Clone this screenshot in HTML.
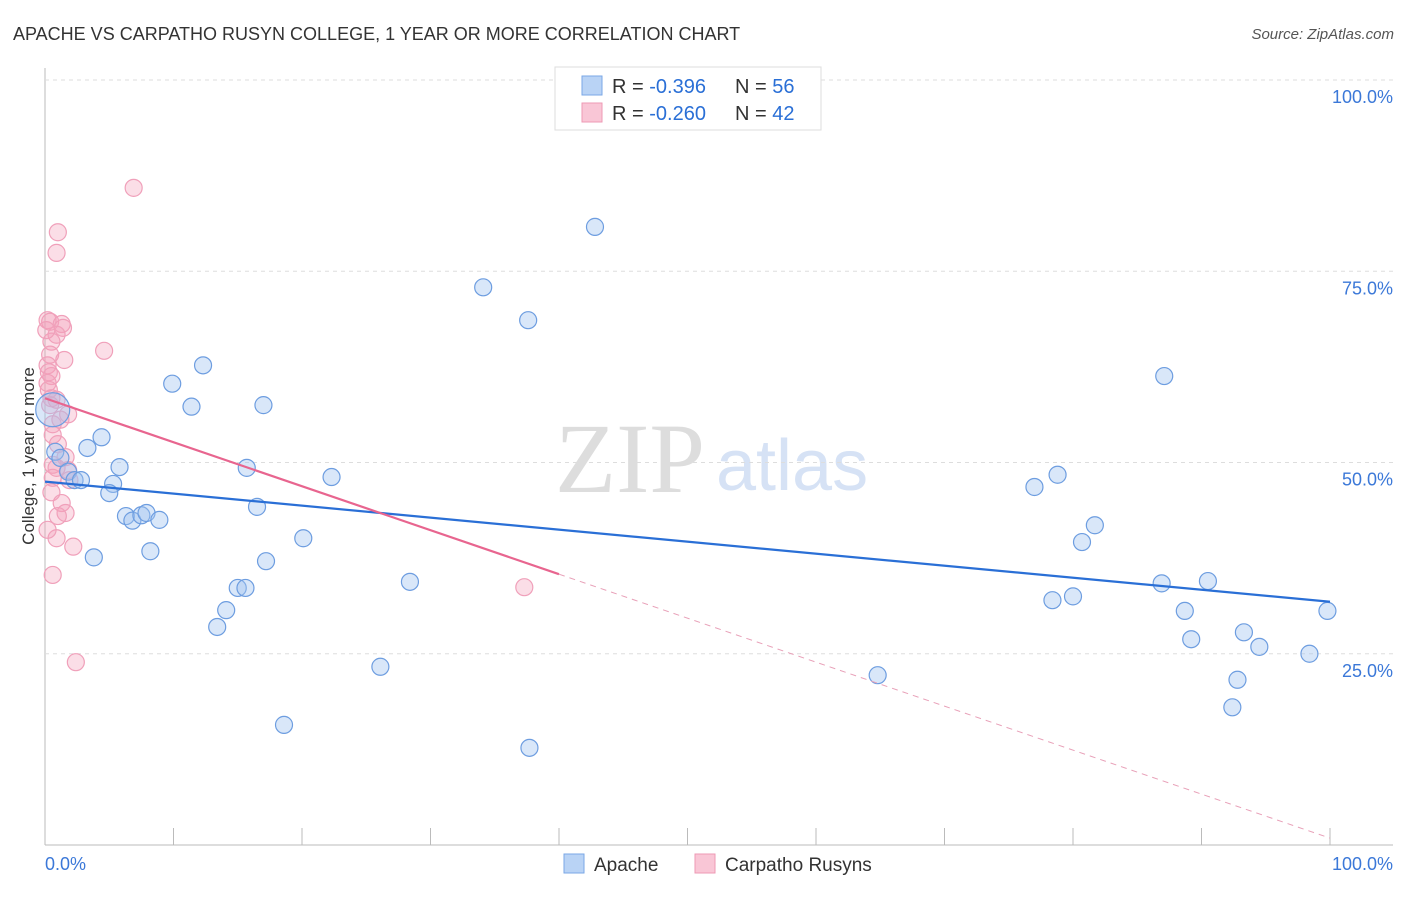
<!DOCTYPE html>
<html><head><meta charset="utf-8"><style>
body{margin:0;background:#fff;font-family:"Liberation Sans",sans-serif;}
</style></head><body>
<svg id="c" width="1406" height="892" xmlns="http://www.w3.org/2000/svg">
<text x="13" y="40" font-size="18" fill="#333">APACHE VS CARPATHO RUSYN COLLEGE, 1 YEAR OR MORE CORRELATION CHART</text>
<text x="1394" y="39" font-size="15" fill="#555" font-style="italic" text-anchor="end">Source: ZipAtlas.com</text>
<text x="34" y="456" font-size="17" fill="#333" text-anchor="middle" transform="rotate(-90 34 456)">College, 1 year or more</text>
<text x="555" y="492" font-size="100" fill="#ddd" font-family="Liberation Serif,serif">ZIP</text>
<text x="716" y="490" font-size="72" fill="#d6e2f5">atlas</text>
<g id="axes"></g><g id="pts"></g><g id="lines"></g>
<g>
<rect x="555" y="67" width="266" height="63" fill="#fff" stroke="#ddd"/>
<rect x="582" y="76" width="20" height="19" fill="#b9d3f5" stroke="#7aa7e6"/>
<rect x="582" y="103" width="20" height="19" fill="#f9c6d6" stroke="#ee99b4"/>
<text x="612" y="93" font-size="20" fill="#333">R = <tspan fill="#2a6fd6">-0.396</tspan><tspan x="735">N = </tspan><tspan fill="#2a6fd6">56</tspan></text>
<text x="612" y="120" font-size="20" fill="#333">R = <tspan fill="#2a6fd6">-0.260</tspan><tspan x="735">N = </tspan><tspan fill="#2a6fd6">42</tspan></text>
</g>
<g>
<rect x="564" y="854" width="20" height="19" fill="#b9d3f5" stroke="#7aa7e6"/>
<text x="594" y="871" font-size="19" fill="#333">Apache</text>
<rect x="695" y="854" width="20" height="19" fill="#f9c6d6" stroke="#ee99b4"/>
<text x="725" y="871" font-size="19" fill="#333">Carpatho Rusyns</text>
</g>
</svg>
<script>
const yTicks=[100,75,50,25];
const yTickLabels=["100.0%","75.0%","50.0%","25.0%"];
const xTicks=[0,10,20,30,40,50,60,70,80,90,100];
const apacheX=[42.8,34.1,37.6,87.1,12.3,9.9,11.4,17.0,0.6,4.4,3.3,0.8,1.2,5.8,15.7,1.8,2.3,2.8,5.3,5.0,22.3,78.8,77.0,16.5,6.3,6.8,7.5,7.9,8.9,20.1,81.7,80.7,8.2,3.8,17.2,28.4,15.0,15.6,86.9,90.5,78.4,80.0,14.1,88.7,99.8,13.4,89.2,93.3,94.5,98.4,26.1,64.8,92.8,92.4,18.6,37.7];
const apacheY=[80.8,72.9,68.6,61.3,62.7,60.3,57.3,57.5,56.9,53.3,51.9,51.4,50.6,49.4,49.3,48.8,47.7,47.7,47.2,46.0,48.1,48.4,46.8,44.2,43.0,42.4,43.1,43.4,42.5,40.1,41.8,39.6,38.4,37.6,37.1,34.4,33.6,33.6,34.2,34.5,32.0,32.5,30.7,30.6,30.6,28.5,26.9,27.8,25.9,25.0,23.3,22.2,21.6,18.0,15.7,12.7];
const rusynX=[6.9,1.0,0.9,0.2,0.4,1.3,1.4,0.9,0.5,4.6,0.4,1.5,0.2,0.3,0.5,0.2,0.3,0.5,0.9,1.8,0.6,0.6,1.0,1.6,0.6,0.9,1.8,0.6,0.5,1.3,1.6,1.0,0.9,2.2,0.6,37.3,2.4,0.1,0.4,1.2,1.9,0.2];
const rusynY=[85.9,80.1,77.4,68.6,68.4,68.1,67.6,66.7,65.8,64.6,64.1,63.4,62.7,61.8,61.3,60.4,59.5,58.4,58.2,56.3,55.0,53.6,52.4,50.7,49.7,49.3,49.0,48.0,46.1,44.7,43.4,43.0,40.1,39.0,35.3,33.7,23.9,67.3,57.5,55.6,47.7,41.2];
const apacheTrend=[47.5,31.8];
const rusynTrend=[58.4,0.9];
const rusynSolidEnd=40;
const NS="http://www.w3.org/2000/svg";
const X=v=>45+v*12.85, Y=v=>845-v*7.65;
function mk(t,a,p){const e=document.createElementNS(NS,t);for(const k in a)e.setAttribute(k,a[k]);document.getElementById(p).appendChild(e);return e;}
let e;
e=mk('line',{x1:45,y1:68,x2:45,y2:845,stroke:'#bbb'},'axes');


e=mk('line',{x1:45,y1:845,x2:1393,y2:845,stroke:'#bbb'},'axes');


yTicks.forEach((t,i)=>{
 e=mk('line',{x1:45,y1:Y(t),x2:1393,y2:Y(t),stroke:'#ddd','stroke-dasharray':'4,4'},'axes');
 
 
 e=mk('text',{x:1393,y:Y(t)+23,'font-size':18,fill:'#3b78d8','text-anchor':'end'},'axes');
 e.textContent=yTickLabels[i];
 
 
});
xTicks.forEach(t=>{
 e=mk('line',{x1:X(t),y1:828,x2:X(t),y2:845,stroke:'#bbb'},'axes');
 
 
});
e=mk('text',{x:45,y:870,'font-size':18,fill:'#3b78d8'},'axes');e.textContent='0.0%';


e=mk('text',{x:1393,y:870,'font-size':18,fill:'#3b78d8','text-anchor':'end'},'axes');e.textContent='100.0%';


rusynX.forEach((v,i)=>{
 e=mk('circle',{cx:X(v),cy:Y(rusynY[i]),r:8.5,fill:'rgba(244,160,186,0.35)',stroke:'#f0a0ba','stroke-width':1.2},'pts');
 
 
});
apacheX.forEach((v,i)=>{
 e=mk('circle',{cx:X(v),cy:Y(apacheY[i]),r:i==8?17:8.5,fill:'rgba(160,196,240,0.4)',stroke:'#6d9de0','stroke-width':1.2},'pts');
 
 
});
e=mk('line',{x1:X(0),y1:Y(apacheTrend[0]),x2:X(100),y2:Y(apacheTrend[1]),stroke:'#2a6fd6','stroke-width':2.2},'lines');


const rAt=v=>rusynTrend[0]+(rusynTrend[1]-rusynTrend[0])*v/100;
e=mk('line',{x1:X(0),y1:Y(rAt(0)),x2:X(rusynSolidEnd),y2:Y(rAt(rusynSolidEnd)),stroke:'#e8658f','stroke-width':2.2},'lines');


e=mk('line',{x1:X(rusynSolidEnd),y1:Y(rAt(rusynSolidEnd)),x2:X(100),y2:Y(rAt(100)),stroke:'#e8a0b8','stroke-width':1,'stroke-dasharray':'6,5'},'lines');


</script>
</body></html>
